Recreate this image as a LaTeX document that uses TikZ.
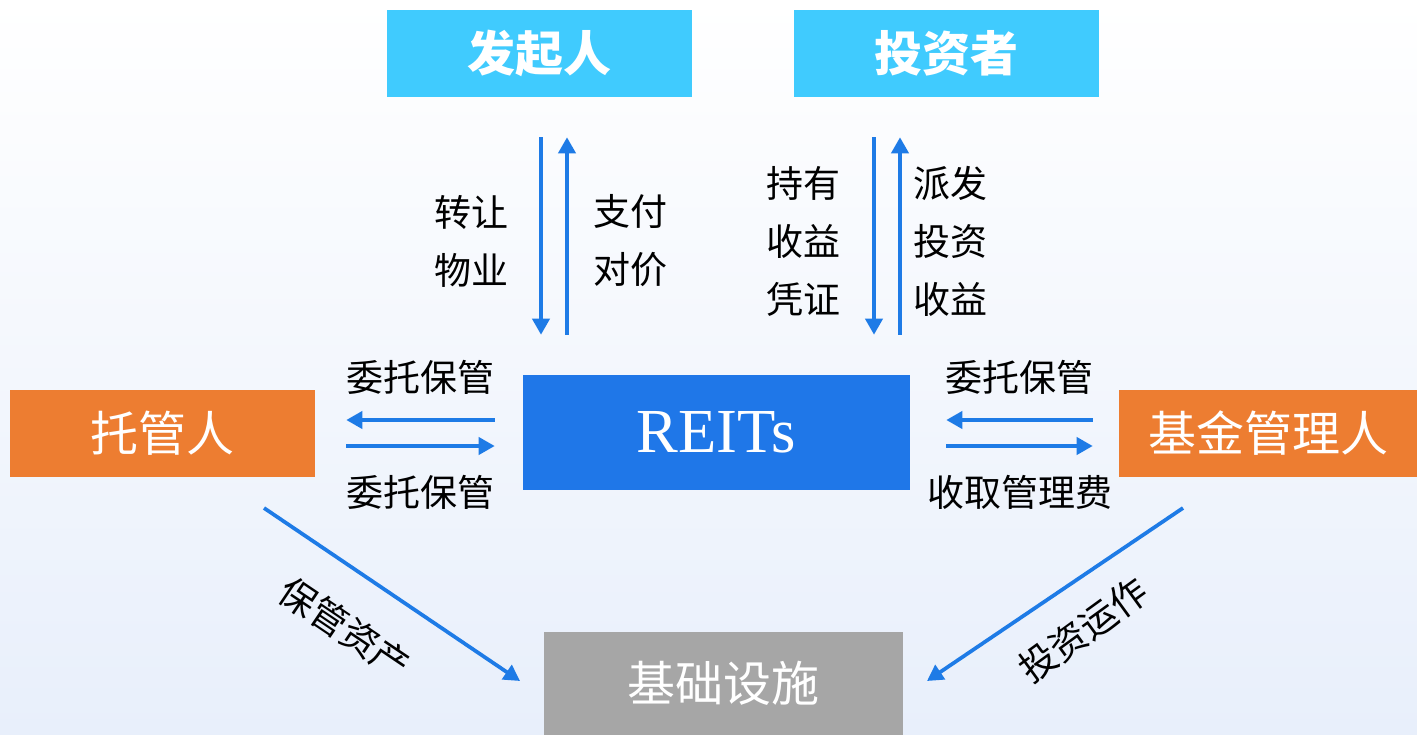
\documentclass[tikz,border=0pt]{standalone}
\usepackage{fontspec}
\setmainfont{Liberation Serif}
\newfontfamily\cjk{Noto Sans CJK SC}
\usetikzlibrary{arrows.meta}
\definecolor{skyfill}{HTML}{40CBFE}
\definecolor{orangefill}{HTML}{ED7D31}
\definecolor{reitsfill}{HTML}{1F77E8}
\definecolor{grayfill}{HTML}{A6A6A6}
\definecolor{flowblue}{HTML}{1E7BE6}
\definecolor{bgbottom}{HTML}{E8EFFB}

\begin{document}
\begin{tikzpicture}[x=0.75pt,y=0.75pt,yscale=-1,xscale=1,
  box/.style={inner sep=0pt,minimum width=228.75pt,minimum height=65.25pt,text=white,font=\cjk\fontsize{36}{40}\selectfont},
  flow/.style={draw=flowblue,line width=2.8pt,-{Triangle[length=12pt,width=12.75pt]}},
  lbl/.style={inner sep=0pt,align=center,font=\cjk\fontsize{27.75}{43.5}\selectfont}]
\useasboundingbox (0,0) rectangle (1417,735);
%background
\shade [top color=white,bottom color=bgbottom] (0,0) rectangle (1417,735);

%Boxes
\node [box,fill=skyfill,font=\cjk\bfseries\fontsize{36}{40}\selectfont] (fqr) at (539.5,53.5) {发起人};
\node [box,fill=skyfill,font=\cjk\bfseries\fontsize{36}{40}\selectfont] (tzz) at (946.5,53.5) {投资者};
\node [box,fill=reitsfill,minimum width=290.25pt,minimum height=86.25pt,font=\fontsize{47}{50}\selectfont] (reits) at (716.5,432.5) {REITs};
\node [box,fill=orangefill] (tgr) at (162.5,433.5) {托管人};
\node [box,fill=orangefill,minimum width=223.5pt] (jjgl) at (1268,433.5) {基金管理人};
\node [box,fill=grayfill,minimum width=269.25pt,minimum height=77.25pt] (jcss) at (723.5,683.5) {基础设施};

%Vertical arrows
\draw [flow,shorten <=30pt,shorten >=30pt] (fqr.south -| 541,0) -- (reits.north -| 541,0);
\draw [flow,shorten <=30pt,shorten >=30pt] (reits.north -| 567,0) -- (fqr.south -| 567,0);
\draw [flow,shorten <=30pt,shorten >=30pt] (tzz.south -| 874,0) -- (reits.north -| 874,0);
\draw [flow,shorten <=30pt,shorten >=30pt] (reits.north -| 900,0) -- (tzz.south -| 900,0);

%Horizontal arrows
\draw [flow,shorten <=21pt,shorten >=23.25pt] (reits.west |- 0,420) -- (tgr.east |- 0,420);
\draw [flow,shorten <=23.25pt,shorten >=21pt] (tgr.east |- 0,446) -- (reits.west |- 0,446);
\draw [flow,shorten <=19.5pt,shorten >=27pt] (jjgl.west |- 0,420) -- (reits.east |- 0,420);
\draw [flow,shorten <=27pt,shorten >=19.5pt] (reits.east |- 0,446) -- (jjgl.west |- 0,446);

%Diagonal arrows
\coordinate (tgrout) at (264,508);
\coordinate (jcssinl) at (520,681);
\coordinate (jjglout) at (1183,508);
\coordinate (jcssinr) at (927,681);
\draw [flow] (tgrout) -- (jcssinl);
\draw [flow] (jjglout) -- (jcssinr);

% Text Node
\node [lbl] (zrwy) at (471,241) {转让\\物业};
\node [lbl] (zfdj) at (630,241) {支付\\对价};
\node [lbl] (cysy) at (803,241) {持有\\收益\\凭证};
\node [lbl] (pftz) at (950,241) {派发\\投资\\收益};
\node [lbl] (wtbgl1) at (420,377) {委托保管};
\node [lbl] (wtbgl2) at (420,492) {委托保管};
\node [lbl] (wtbgr) at (1019.5,377) {委托保管};
\node [lbl] (sqglf) at (1019.5,492) {收取管理费};
\node [lbl,rotate=-34] (bgzc) at (345,628) {保管资产};
\node [lbl,rotate=36] (tzyz) at (1083,630) {投资运作};

\end{tikzpicture}
\end{document}
